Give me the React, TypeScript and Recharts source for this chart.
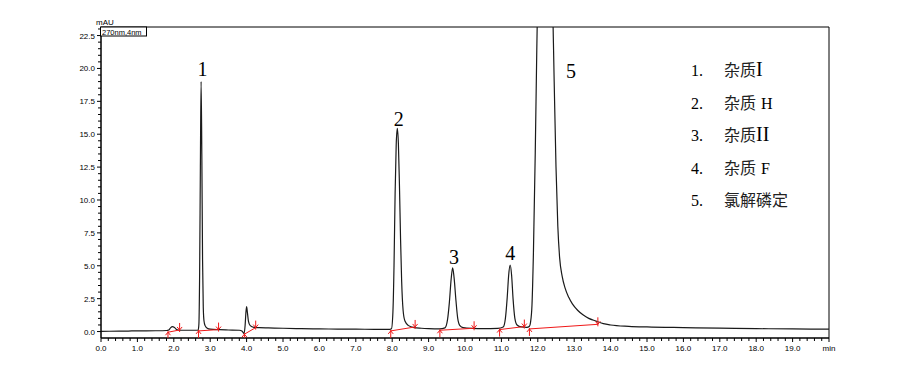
import React from "react"
import { ComposedChart, Line, Scatter, XAxis, YAxis, ReferenceArea } from "recharts"

// chromatogram, [time (min), signal (mAU)]
const leadIn: [number, number][] = [
  [0, 0.02], [0.5, 0.03], [1.0, 0.05], [1.5, 0.06], [1.8, 0.08], [1.86, 0.12], [1.91, 0.28], [1.96, 0.37],
  [2.02, 0.3], [2.08, 0.15], [2.15, 0.1], [2.3, 0.1], [2.5, 0.1], [2.62, 0.1],
]
const peak1: [number, number][] = [
  [2.67, 0.12], [2.69, 0.6], [2.71, 4.5], [2.73, 12.5], [2.75, 19.0], [2.77, 13.5], [2.79, 5.5], [2.81, 1.8],
  [2.83, 0.8], [2.86, 0.45], [2.92, 0.25], [3.0, 0.18], [3.25, 0.14],
]
const smallPeak: [number, number][] = [
  [3.5, 0.12], [3.8, 0.1], [3.88, 0.02], [3.93, -0.15], [3.96, 0.5], [3.98, 1.4], [4.0, 1.9], [4.02, 1.5],
  [4.05, 0.8], [4.1, 0.45], [4.2, 0.32], [4.35, 0.3], [4.6, 0.28],
]
const midBase: [number, number][] = [
  [5.0, 0.25], [5.5, 0.22], [6.0, 0.2], [6.5, 0.19], [7.0, 0.18], [7.5, 0.17], [7.9, 0.16],
]
const peak2: [number, number][] = [
  [7.98, 0.22], [8.02, 1.5], [8.05, 5], [8.08, 10.5], [8.11, 14.2], [8.14, 15.45], [8.17, 14.3], [8.2, 11],
  [8.23, 7], [8.26, 3.8], [8.3, 1.6], [8.35, 0.8], [8.45, 0.45], [8.6, 0.3], [8.8, 0.25], [9.0, 0.22], [9.3, 0.2],
]
const peak3: [number, number][] = [
  [9.45, 0.28], [9.52, 0.9], [9.57, 2.2], [9.62, 4.0], [9.66, 4.85], [9.7, 4.1], [9.75, 2.4], [9.8, 1.0],
  [9.86, 0.45], [9.95, 0.3], [10.2, 0.24], [10.5, 0.22], [10.9, 0.24],
]
const peak4: [number, number][] = [
  [11.05, 0.35], [11.11, 1.0], [11.16, 2.6], [11.2, 4.3], [11.24, 5.05], [11.28, 4.3], [11.32, 2.5],
  [11.37, 1.0], [11.43, 0.5], [11.55, 0.35], [11.7, 0.32],
]
const peak5: [number, number][] = [
  [11.77, 0.4], [11.8, 0.7], [11.84, 2], [11.88, 6], [11.93, 13.6], [11.97, 21], [12.0, 26], [12.1, 35],
  [12.2, 38], [12.3, 35], [12.4, 26], [12.45, 19], [12.5, 12.5], [12.55, 8], [12.6, 5.6], [12.67, 4.2],
  [12.75, 3.3], [12.85, 2.6], [12.95, 2.1], [13.1, 1.6], [13.25, 1.25], [13.4, 1.0], [13.6, 0.8], [13.8, 0.6],
  [14.0, 0.5],
]
const tail: [number, number][] = [
  [14.5, 0.4], [15, 0.35], [16, 0.3], [17, 0.26], [18, 0.22], [19, 0.2], [20, 0.18],
]

// integration baseline start / end marks
const integStart: [number, number][] = [
  [1.84, -0.05], [2.68, 0.05], [3.94, -0.2], [7.96, 0.05], [9.31, 0.1], [10.95, 0.15], [11.77, 0.2],
]
const integEnd: [number, number][] = [
  [2.16, 0.12], [3.23, 0.15], [4.25, 0.3], [8.63, 0.35], [10.25, 0.25], [11.63, 0.38], [13.65, 0.55],
]

const peakLabels = [
  { t: 2.79, v: 19.4, text: "1" },
  { t: 8.18, v: 15.6, text: "2" },
  { t: 9.7, v: 5.1, text: "3" },
  { t: 11.24, v: 5.45, text: "4" },
  { t: 12.91, v: 19.3, text: "5" },
]

const legendNames = ["杂质I", "杂质 H", "杂质II", "杂质 F", "氯解磷定"]

const xMajor = [0, 1, 2, 3, 4, 5, 6, 7, 8, 9, 10, 11, 12, 13, 14, 15, 16, 17, 18, 19, 20]
const yMajor = [0, 2.5, 5, 7.5, 10, 12.5, 15, 17.5, 20, 22.5]

const xTicks = Array.from({ length: 101 }, (_, i) => Math.round(i * 2) / 10)
const yTicks = Array.from({ length: 47 }, (_, i) => i / 2)

const toPts = (arr: [number, number][]) => arr.map(([t, v]) => ({ t, v }))
const trace = toPts([...leadIn, ...peak1, ...smallPeak, ...midBase, ...peak2, ...peak3, ...peak4, ...peak5, ...tail])

const sans = "'Liberation Sans', Arial, sans-serif"
const serif = "'Liberation Serif', 'Times New Roman', serif"
const RED = "#f01818"

const XTick = (props: any) => {
  const { x, y, payload } = props
  const t = payload.value
  const major = xMajor.some((m) => Math.abs(m - t) < 1e-6)
  return (
    <g>
      <line x1={x} y1={y} x2={x} y2={y + (major ? 4 : 3)} stroke="#000" strokeWidth={1} />
      {major && (
        <text x={x} y={y + 13} textAnchor="middle" fontSize={8} fontFamily={sans} fill="#000">
          {t === 20 ? "min" : t.toFixed(1)}
        </text>
      )}
    </g>
  )
}

const YTick = (props: any) => {
  const { x, y, payload } = props
  const v = payload.value
  const major = yMajor.some((m) => Math.abs(m - v) < 1e-6)
  return (
    <g>
      <line x1={x - (major ? 4 : 3)} y1={y} x2={x} y2={y} stroke="#000" strokeWidth={1} />
      {major && (
        <text x={x - 6} y={y + 3} textAnchor="end" fontSize={8} fontFamily={sans} fill="#000">
          {v.toFixed(1)}
        </text>
      )}
    </g>
  )
}

const StartMark = (props: any) => {
  const { cx, cy } = props
  return (
    <g stroke={RED} strokeWidth={1} fill="none">
      <line x1={cx} y1={cy - 1} x2={cx} y2={cy + 7} />
      <polyline points={`${cx - 2.5},${cy + 3} ${cx},${cy} ${cx + 2.5},${cy + 3}`} />
    </g>
  )
}

const EndMark = (props: any) => {
  const { cx, cy } = props
  return (
    <g stroke={RED} strokeWidth={1} fill="none">
      <line x1={cx} y1={cy - 7} x2={cx} y2={cy + 2} />
      <polyline points={`${cx - 2.5},${cy - 3} ${cx},${cy} ${cx + 2.5},${cy - 3}`} />
    </g>
  )
}

const PeakLabel = (props: any) => {
  const { cx, cy, payload } = props
  return (
    <text x={cx} y={cy} textAnchor="middle" fontSize={20} fontFamily={serif} fill="#000">
      {payload.text}
    </text>
  )
}

function Legend() {
  return (
    <svg width={906} height={385} style={{ position: "absolute", left: 0, top: 0, pointerEvents: "none" }}>
      <text x={96} y={25} fontSize={8} fontFamily={sans} fill="#000">mAU</text>
      <rect x={100.5} y={27} width={46} height={9} fill="#fff" stroke="#000" strokeWidth={1} />
      <text x={102} y={34.5} fontSize={7.5} fontFamily={sans} fill="#000">270nm,4nm</text>
      {legendNames.map((name, i) => {
        const m = name.match(/^([^\sA-Z]+)(\s?)([A-Z]*)$/)
        const cjk = m ? m[1] : name
        const gap = m ? m[2] : ""
        const latin = m ? m[3] : ""
        const roman = /^I+$/.test(latin)
        const y = 76 + i * 32.6
        return (
          <g key={name}>
            <text x={691} y={y} fontSize={16} fontFamily={serif} fill="#000">{`${i + 1}.`}</text>
            <text x={724} y={y} fontSize={16} fill="#222">
              <tspan fontFamily="'Noto Sans CJK SC', sans-serif">{cjk}</tspan>
              {latin && (
                <tspan fontFamily={serif} fontSize={roman ? 20 : 16} dx={gap ? 5 : 0} fill="#000">
                  {latin}
                </tspan>
              )}
            </text>
          </g>
        )
      })}
    </svg>
  )
}

export default function App() {
  return (
    <div style={{ position: "absolute", left: 0, top: 0, width: 906, height: 385, background: "#fff" }}>
      <ComposedChart width={906} height={385} margin={{ top: 27, right: 77, bottom: 0, left: 0 }}>
        <XAxis
          dataKey="t"
          type="number"
          domain={[0, 20]}
          ticks={xTicks}
          interval={0}
          height={47}
          tickSize={0}
          tickMargin={0}
          tick={<XTick />}
          axisLine={{ stroke: "#000" }}
          allowDataOverflow
        />
        <YAxis
          type="number"
          domain={[-0.49, 23.15]}
          ticks={yTicks}
          interval={0}
          width={101}
          tickSize={0}
          tickMargin={0}
          tick={<YTick />}
          axisLine={{ stroke: "#000" }}
          allowDataOverflow
        />
        <ReferenceArea x1={0} x2={20} y1={-0.49} y2={23.15} fill="none" stroke="#000" strokeWidth={1} />
        <Line
          data={trace}
          dataKey="v"
          type="monotone"
          stroke="#1a1a1a"
          strokeWidth={1.2}
          dot={false}
          isAnimationActive={false}
        />
        {integStart.map((s, i) => (
          <Line
            key={`seg${i}`}
            data={toPts([s, integEnd[i]])}
            dataKey="v"
            type="linear"
            stroke={RED}
            strokeWidth={1}
            dot={false}
            isAnimationActive={false}
          />
        ))}
        <Scatter data={toPts(integStart)} dataKey="v" shape={<StartMark />} isAnimationActive={false} />
        <Scatter data={toPts(integEnd)} dataKey="v" shape={<EndMark />} isAnimationActive={false} />
        <Scatter data={peakLabels} dataKey="v" shape={<PeakLabel />} isAnimationActive={false} />
      </ComposedChart>
      <Legend />
    </div>
  )
}
